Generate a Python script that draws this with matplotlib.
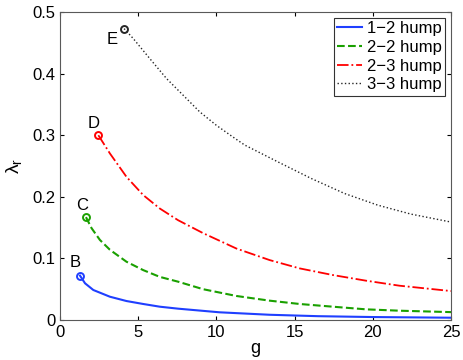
import numpy as np
import matplotlib
matplotlib.use('Agg')
import matplotlib.pyplot as plt

plt.rcParams['font.family'] = ['Liberation Sans', 'DejaVu Sans']

# values
g12 = [1.28, 1.6, 2.13, 3.19, 4.25, 5.32, 6.38, 7.55, 10.2, 13.4, 16.5, 20.0, 25.0]
l12 = [0.072, 0.0596, 0.0487, 0.0378, 0.0308, 0.026, 0.0216, 0.0184, 0.0125, 0.0085, 0.0062, 0.0048, 0.0037]

g22 = [1.66, 2.02, 2.55, 3.19, 4.25, 5.32, 6.38, 7.55, 9.15, 11.28, 13.4, 15.32, 17.44, 19.57, 21.7, 25.0]
l22 = [0.167, 0.149, 0.130, 0.114, 0.0946, 0.081, 0.070, 0.0622, 0.050, 0.039, 0.0314, 0.026, 0.0216, 0.0173, 0.0151, 0.0128]

g23 = [2.45, 3.19, 4.25, 5.32, 6.38, 7.55, 9.15, 11.28, 13.4, 15.32, 17.44, 19.57, 21.7, 25.0]
l23 = [0.300, 0.2704, 0.2324, 0.2028, 0.181, 0.162, 0.141, 0.116, 0.0973, 0.0838, 0.073, 0.0638, 0.0557, 0.047]

g33 = [4.1, 4.68, 5.74, 6.81, 7.87, 8.93, 10.0, 11.06, 11.81, 13.93, 16.06, 18.19, 20.31, 22.44, 25.0]
l33 = [0.473, 0.457, 0.4244, 0.392, 0.365, 0.338, 0.316, 0.297, 0.284, 0.2567, 0.2298, 0.2054, 0.1865, 0.1719, 0.159]

labels = ['1\u22122 hump', '2\u22122 hump', '2\u22123 hump', '3\u22123 hump']
points = ['B', 'C', 'D', 'E']
offs = [(-3.6, 9.4), (-2.9, 8.6), (-3.2, 8.6), (-8.6, -7.9)]

fig = plt.figure(figsize=(4.63, 3.6), dpi=100)
ax = fig.add_axes([60/463, 40/360, 391/463, 308/360])

cols = ['#1f3fff', '#1aa000', 'red', '0.15']
styles = ['-', '--', '-.', ':']
widths = [1.5, 1.5, 1.3, 1.0]
series = [(g12, l12), (g22, l22), (g23, l23), (g33, l33)]

for (gg, ll), c, s, w, lab in zip(series, cols, styles, widths, labels):
    ax.plot(gg, ll, color=c, linestyle=s, linewidth=w, label=lab)

for (gg, ll), c, p, o in zip(series, cols, points, offs):
    ax.plot(gg[0], ll[0], 'o', mfc='none', mec=c, ms=5, mew=1.4)
    ax.annotate(p, (gg[0], ll[0]), xytext=o, textcoords='offset points',
                ha='center', va='center', fontsize=12)

ax.set_xlim(0, 25)
ax.set_ylim(0, 0.5)
ax.set_xticks([0, 5, 10, 15, 20, 25])
ax.set_yticks([0, 0.1, 0.2, 0.3, 0.4, 0.5])
ax.set_yticklabels(['0', '0.1', '0.2', '0.3', '0.4', '0.5'])
ax.tick_params(direction='in', top=True, right=True, labelsize=12, length=3)
for sp in ax.spines.values():
    sp.set_color('0.35')
    sp.set_linewidth(0.8)
ax.set_xlabel('g', fontsize=13, labelpad=0)
ax.set_ylabel(r'$\mathregular{\lambda_r}$', fontsize=14, labelpad=6)

leg = ax.legend(loc='upper right', fontsize=12, frameon=True, fancybox=False,
                edgecolor='black', borderpad=0.2, labelspacing=0.22,
                handlelength=1.5, handletextpad=0.3, borderaxespad=0.35)
leg.get_frame().set_linewidth(0.8)

plt.savefig('out.png', dpi=100)
